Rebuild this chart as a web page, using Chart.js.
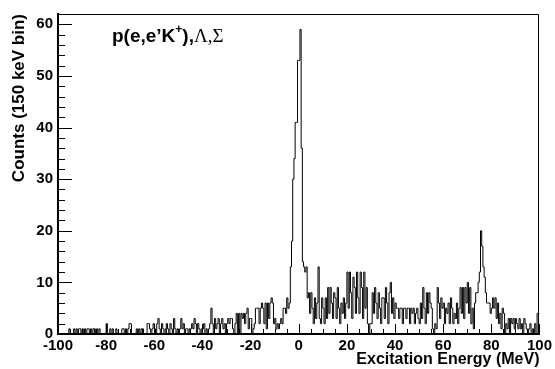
<!DOCTYPE html>
<html><head><meta charset="utf-8">
<script src="https://cdn.jsdelivr.net/npm/chart.js@4.4.1/dist/chart.umd.min.js"></script>
<style>html,body{margin:0;padding:0;background:#fff;}#wrap{width:555px;height:369px;}</style>
</head><body><div id="wrap"><canvas id="c" width="555" height="369"></canvas></div>
<script>
// Histogram: bin lower edges start at binStart, each binWidth MeV wide
const binStart = -100;
const binWidth = 0.5;
const counts = [
  0,0,0,0,0,0,0,0,0,1,
  0,0,0,1,0,1,0,1,1,0,
  1,0,1,0,1,1,0,1,0,1,
  1,0,1,0,1,0,0,0,0,0,
  2,0,0,1,0,1,0,0,1,0,
  0,0,0,1,1,0,1,0,1,2,
  2,0,0,0,0,1,0,1,0,1,
  1,0,0,0,2,2,1,0,1,2,
  1,0,2,3,1,0,2,1,0,1,
  2,1,0,2,1,0,3,1,0,1,
  0,1,3,1,2,0,1,1,0,1,
  1,2,1,3,2,0,2,1,0,1,
  1,2,0,1,0,1,2,5,2,0,
  3,1,2,3,0,2,3,1,2,0,
  2,3,2,3,3,1,0,2,4,0,
  4,0,4,3,4,2,4,5,1,3,
  3,0,1,2,5,5,5,2,5,6,
  5,2,6,1,6,3,6,7,6,2,
  3,1,2,1,2,3,2,5,5,4,
  7,5,6,13,18,30,34,41,41,53,
  53,59,36,14,13,12,13,7,8,4,
  8,5,2,7,3,6,13,3,2,7,
  5,2,7,3,9,4,9,6,3,8,
  7,3,9,5,2,6,4,7,3,6,
  12,5,12,8,3,11,9,4,12,7,
  4,12,9,3,12,5,9,2,0,2,
  2,8,4,9,6,3,8,5,2,7,
  7,3,9,6,2,8,10,4,7,3,
  6,5,5,3,5,5,2,5,5,3,
  5,5,2,5,4,5,2,4,5,3,
  2,6,3,9,5,2,8,4,8,6,
  5,1,0,2,1,9,6,3,7,5,
  6,2,5,4,6,2,7,5,2,4,
  3,6,2,5,9,4,9,3,9,6,
  10,4,9,2,5,1,6,8,8,10,
  12,20,17,13,11,8,6,6,6,4,
  5,7,5,7,3,6,2,4,1,5,
  4,0,2,1,3,0,3,2,3,1,
  3,2,1,3,1,2,0,3,2,1,
  0,1,2,0,1,0,2,0,4,4
];
const xTicks = [-100,-80,-60,-40,-20,0,20,40,60,80,100];
const yTicks = [0,10,20,30,40,50,60];
const xTitle = 'Excitation Energy (MeV)';
const yTitle = 'Counts (150 keV bin)';
const labelMain = 'p(e,e\u2019K';
const labelSup = '+';
const labelClose = '),';
const labelGreek = '\u039B,\u03A3';

const points = [{x: binStart, y: 0}];
counts.forEach((c, i) => points.push({x: binStart + i * binWidth, y: c}));
points.push({x: binStart + counts.length * binWidth, y: counts[counts.length - 1]});

const FONT = '"Liberation Sans", Arial, Helvetica, sans-serif';

const rootPlugin = {
  id: 'rootStyle',
  afterDraw(chart) {
    const {ctx, chartArea: a, scales: {x, y}} = chart;
    ctx.save();
    ctx.strokeStyle = '#000';
    ctx.lineWidth = 1;
    // top and right frame
    ctx.beginPath();
    ctx.moveTo(a.left, Math.round(a.top) + 0.5);
    ctx.lineTo(Math.round(a.right) - 0.5, Math.round(a.top) + 0.5);
    ctx.lineTo(Math.round(a.right) - 0.5, a.bottom);
    ctx.stroke();
    // y ticks (inside)
    ctx.beginPath();
    for (let v = 0; v <= 62; v += 2) {
      const py = Math.round(y.getPixelForValue(v)) + 0.5;
      const len = (v % 10 === 0) ? 14 : 7;
      ctx.moveTo(a.left, py);
      ctx.lineTo(a.left + len, py);
    }
    // x ticks (inside)
    for (let v = -100; v <= 100; v += 5) {
      const px = Math.round(x.getPixelForValue(v)) + 0.5;
      const len = (v % 20 === 0) ? 10 : 5;
      ctx.moveTo(px, a.bottom);
      ctx.lineTo(px, a.bottom - len);
    }
    ctx.stroke();
    // reaction label
    ctx.fillStyle = '#000';
    ctx.textBaseline = 'alphabetic';
    let tx = 112, ty = 42;
    ctx.font = 'bold 19px ' + FONT;
    ctx.fillText(labelMain, tx, ty);
    tx += ctx.measureText(labelMain).width;
    ctx.font = 'bold 12px ' + FONT;
    ctx.fillText(labelSup, tx, ty - 9);
    tx += ctx.measureText(labelSup).width;
    ctx.font = 'bold 19px ' + FONT;
    ctx.fillText(labelClose, tx, ty);
    tx += ctx.measureText(labelClose).width;
    ctx.font = '19px "Liberation Serif", "Times New Roman", serif';
    ctx.fillText(labelGreek, tx, ty);
    ctx.restore();
  }
};

new Chart(document.getElementById('c'), {
  type: 'line',
  data: {
    datasets: [{
      data: points,
      stepped: true,
      borderColor: '#000',
      borderWidth: 1,
      pointRadius: 0,
      fill: false,
      tension: 0
    }]
  },
  options: {
    responsive: false,
    animation: false,
    devicePixelRatio: 1,
    layout: {padding: {left: 0, right: 13, top: 7, bottom: 0}},
    plugins: {legend: {display: false}, tooltip: {enabled: false}},
    scales: {
      x: {
        type: 'linear', min: -100, max: 100,
        afterFit(s) { s.height = 35; },
        afterBuildTicks(s) { s.ticks = xTicks.map(v => ({value: v})); },
        grid: {display: false, drawTicks: false},
        border: {display: true, color: '#000', width: 2},
        ticks: {color: '#000', padding: 3, maxRotation: 0, autoSkip: false,
                font: {family: FONT, size: 15, weight: 'bold'}},
        title: {display: true, text: xTitle, align: 'end', color: '#000',
                font: {family: FONT, size: 16, weight: 'bold'}, padding: {top: 0, bottom: 0}}
      },
      y: {
        type: 'linear', min: 0, max: 62,
        afterFit(s) { s.width = 58; },
        afterBuildTicks(s) { s.ticks = yTicks.map(v => ({value: v})); },
        grid: {display: false, drawTicks: false},
        border: {display: true, color: '#000', width: 2},
        ticks: {color: '#000', padding: 5, autoSkip: false,
                font: {family: FONT, size: 15, weight: 'bold'}},
        title: {display: true, text: yTitle, align: 'end', color: '#000',
                font: {family: FONT, size: 17, weight: 'bold'}, padding: {top: 9, bottom: 0}}
      }
    }
  },
  plugins: [rootPlugin]
});
</script></body></html>
